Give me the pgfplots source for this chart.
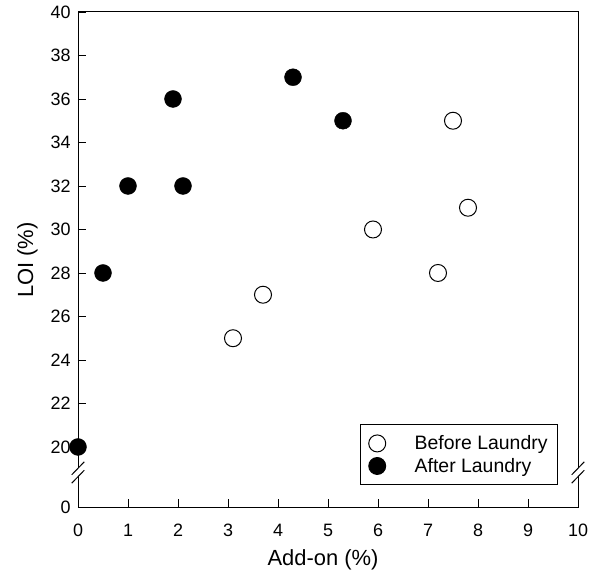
\documentclass[border=0pt]{standalone}
\usepackage{fontspec}
\setmainfont{Liberation Sans}
\usepackage{pgfplots}
\pgfplotsset{compat=1.18}
\begin{document}
\begin{tikzpicture}[x=1bp,y=1bp]
\begin{axis}[name=a, scale only axis, width=500bp, height=495bp,
  xmin=0, xmax=10, ymin=17.24, ymax=40,
  xtick={0,1,2,3,4,5,6,7,8,9,10},
  ytick={17.24,20,22,24,26,28,30,32,34,36,38,40},
  yticklabels={0,20,22,24,26,28,30,32,34,36,38,40},
  tick align=inside, major tick length=8bp,
  xtick pos=bottom, ytick pos=left,
  axis line style={line width=1pt},
  tick style={line width=0.9pt, black},
  /pgf/number format/assume math mode=true,
  ticklabel style={font=\fontsize{18}{20}\selectfont},
  xticklabel style={anchor=base, yshift=-29bp},
  yticklabel style={xshift=-4bp},
  xlabel={Add-on (\%)}, ylabel={LOI (\%)},
  every axis x label/.style={at={(axis description cs:0.49,-0.119)}, anchor=base, font=\fontsize{22}{24}\selectfont},
  every axis y label/.style={at={(axis description cs:-0.09,0.499)}, rotate=90, anchor=base, font=\fontsize{22}{24}\selectfont},
  clip=false,
  legend style={at={(0.96,0.044)}, anchor=south east, draw=black, line width=0.9pt,
    font=\fontsize{19.5}{21}\selectfont, inner xsep=8bp, inner ysep=9bp, row sep=3bp},
  legend cell align=left,
]
\addplot[only marks, mark=o, mark size=8.5bp, mark options={draw=black, fill=white, line width=1pt}]
  coordinates {(3.1,25) (3.7,27) (5.9,30) (7.2,28) (7.5,35) (7.8,31)};
\addlegendentry{\hspace{27bp}Before Laundry}
\addplot[only marks, mark=*, mark size=8.5bp, mark options={draw=black, fill=black}]
  coordinates {(0,20) (0.5,28) (1,32) (1.9,36) (2.1,32) (4.3,37) (5.3,35)};
\addlegendentry{\hspace{27bp}After Laundry}
\end{axis}
\begin{scope}[shift={(a.south west)}]
  \fill[white] (-2,30.5) rectangle (2,38.5);
  \draw[line width=1pt] (-6.3,23.8) -- (6.3,36.8);
  \draw[line width=1pt] (-6.3,32.2) -- (6.3,45.2);
  \fill[white] (498,30.5) rectangle (502,38.5);
  \draw[line width=1pt] (493.7,23.8) -- (506.3,36.8);
  \draw[line width=1pt] (493.7,32.2) -- (506.3,45.2);
\end{scope}
\path[use as bounding box] ([shift={(-78bp,-67bp)}]a.south west) rectangle ++(595bp,574bp);
\end{tikzpicture}
\end{document}
